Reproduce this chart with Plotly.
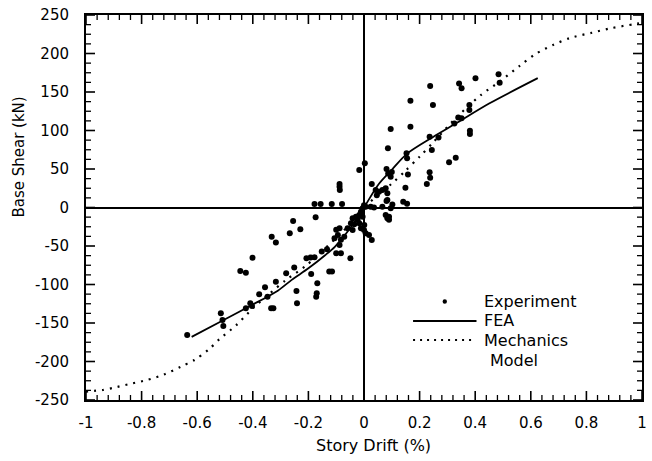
import plotly.graph_objects as go

# ---------------- data ----------------
exp_x = [0.003, -0.017, 0.096, 0.167, 0.238, 0.248, 0.342, 0.351, 0.401, 0.484, 0.488,
         0.167, 0.086, 0.379, 0.379, 0.381, 0.381, 0.339, 0.351, 0.325, 0.268, 0.236, 0.244,
         0.330, 0.306, 0.153, 0.155, 0.158, 0.236, 0.238, 0.226, 0.081, 0.087, 0.100,
         0.028, 0.046, 0.149, 0.084, 0.081, 0.141, 0.155, 0.090,
         0.042, 0.054, 0.066, 0.078, 0.096, 0.084, 0.102, 0.000, 0.006, -0.005,
         0.024, 0.036, 0.066, 0.078, 0.084, 0.090, 0.096, -0.011, -0.017,
         -0.029, -0.041, -0.023, -0.005, -0.047, -0.035, -0.017, 0.001,
         -0.059, -0.041, -0.011, 0.000, 0.006, 0.018, 0.028, -0.100, -0.088,
         -0.094, -0.106, -0.083, -0.071,
         -0.088, -0.088, -0.087, -0.178, -0.156, -0.116, -0.079, -0.255, -0.174,
         -0.229, -0.267, -0.332, -0.317, -0.088, -0.100, -0.083, -0.049,
         -0.133, -0.152, -0.178, -0.192, -0.207, -0.125, -0.115, -0.190, -0.251,
         -0.280, -0.401, -0.445, -0.425, -0.317, -0.356, -0.377, -0.168, -0.170,
         -0.172, -0.243, -0.241, -0.347, -0.409, -0.403, -0.425, -0.334, -0.326,
         -0.515, -0.509, -0.506, -0.636]
exp_y = [57.5, 48.7, 102, 138.7, 157.8, 133, 161, 154.8, 167.8, 173, 162,
         105, 77, 133, 126.6, 99.8, 95.5, 117, 116, 109, 91, 92, 74.7,
         64.7, 58.7, 70.4, 63.9, 43, 45.7, 38.7, 30.5, 50, 44, 46,
         30.5, 16, 25.7, 18.4, 8.4, 7.5, 5, -12,
         22.7, 20.5, 22.7, 25, 40, 9.7, 4, 3, 1, -1,
         1, 0, 1, -9.7, -14, -16, -1, -5.5, -9.7,
         -12, -14, -16, -12, -20.5, -21.8, -20.5, -22.7,
         -27, -29.2, -27, -29.2, -33.5, -35.7, -42.2, -29, -27,
         -35.7, -40, -42, -38,
         30.5, 27, 22.7, 4.5, 4.5, 4.5, 4.5, -17.5, -12.7,
         -28.3, -33.5, -38, -45.5, -48.7, -59.5, -59.5, -66,
         -54.3, -57, -64.7, -65, -66, -83, -83, -86.5, -77.8,
         -85.5, -65.2, -82.5, -84.6, -96.3, -103.7, -112.7, -98.5, -111.5,
         -115.8, -108.4, -124.4, -115.8, -124.4, -128, -131, -131, -131,
         -137.4, -146, -153.9, -165.6]

fea_x = [-0.62, -0.515, -0.405, -0.31, -0.26, -0.20, -0.14, -0.105, -0.05, 0.0,
         0.05, 0.10, 0.155, 0.25, 0.33, 0.45, 0.625]
fea_y = [-168, -148, -127, -108, -94, -79, -62, -51, -27, 0,
         29, 49, 70, 92, 109, 135, 168]

mech_x = [-1.0, -0.94, -0.90, -0.84, -0.78, -0.72, -0.66, -0.61, -0.56, -0.52, -0.46,
          -0.40, -0.34, -0.28, -0.21, -0.14, -0.07, 0.0, 0.06, 0.10, 0.15, 0.20, 0.25,
          0.33, 0.42, 0.49, 0.56, 0.62, 0.68, 0.74, 0.82, 0.89, 0.97, 1.0]
mech_y = [-239, -237, -234, -229, -224, -217, -207, -198, -185, -171, -153,
          -131, -112, -94, -76, -53, -29, 0, 19, 31, 48, 66, 85,
          116, 146, 164, 184, 200, 211, 220, 227, 233, 238, 240]

x_tick_vals = [-1, -0.8, -0.6, -0.4, -0.2, 0, 0.2, 0.4, 0.6, 0.8, 1]
x_tick_text = ["-1", "-0.8", "-0.6", "-0.4", "-0.2", "0", "0.2", "0.4", "0.6", "0.8", "1"]
y_tick_vals = [250, 200, 150, 100, 50, 0, -50, -100, -150, -200, -250]
y_tick_text = ["250", "200", "150", "100", "50", "0", "-50", "-100", "-150", "-200", "-250"]

series_names = ["Experiment", "FEA", "Mechanics", "Model"]

# ---------------- layout helpers ----------------
W, H = 652, 461
L, R, T, B = 86, 5, 15, 61
PW, PH = W - L - R, H - T - B


def px_x(p):
    return (p - L) / PW


def px_y(p):
    return (H - B - p) / PH


FONT = "DejaVu Sans"

fig = go.Figure()
fig.add_trace(go.Scatter(x=exp_x, y=exp_y, mode="markers", name=series_names[0],
                         marker=dict(color="black", size=6), showlegend=False))
fig.add_trace(go.Scatter(x=fea_x, y=fea_y, mode="lines", name=series_names[1],
                         line=dict(color="black", width=1.8, shape="spline", smoothing=0.8),
                         showlegend=False))
fig.add_trace(go.Scatter(x=mech_x, y=mech_y, mode="lines",
                         name=series_names[2] + " " + series_names[3],
                         line=dict(color="black", width=2.2, dash="2px,6px",
                                   shape="spline", smoothing=0.8),
                         showlegend=False))

axis_common = dict(showgrid=False, showline=True, linecolor="black", linewidth=2,
                   mirror=True, ticks="", zeroline=True, zerolinecolor="black",
                   zerolinewidth=1.5, tickfont=dict(family=FONT, size=15, color="black"))
fig.update_xaxes(range=[-1, 1], tickmode="array", tickvals=x_tick_vals,
                 ticktext=x_tick_text, ticklabelstandoff=8, **axis_common)
fig.update_yaxes(range=[-250, 250], tickmode="array", tickvals=y_tick_vals,
                 ticktext=y_tick_text, ticklabelstandoff=12, **axis_common)

# ---- inside tick marks on all four sides (drawn as axis-referenced shapes) ----
MAJ, MIN = 9, 5
shapes = []


def xtick(v, ln, w):
    for anchor, sign in ((0, 1), (1, -1)):
        shapes.append(dict(type="line", xref="x", yref="paper", ysizemode="pixel",
                           yanchor=anchor, x0=v, x1=v, y0=0, y1=sign * ln,
                           line=dict(color="black", width=w), layer="above"))


def ytick(v, ln, w):
    for anchor, sign in ((0, 1), (1, -1)):
        shapes.append(dict(type="line", xref="paper", yref="y", xsizemode="pixel",
                           xanchor=anchor, y0=v, y1=v, x0=0, x1=sign * ln,
                           line=dict(color="black", width=w), layer="above"))


for v in x_tick_vals:
    xtick(v, MAJ, 1.6)
for i in range(-25, 26):
    if i % 5:
        xtick(i * 0.04, MIN, 1.3)
for v in y_tick_vals:
    ytick(v, MAJ, 1.6)
for i in range(-20, 21):
    if i % 4:
        ytick(i * 12.5, MIN, 1.3)

annotations = [
    dict(text="Story Drift (%)", x=px_x(376), y=px_y(445), xref="paper", yref="paper",
         showarrow=False, xanchor="center", yanchor="middle",
         font=dict(family=FONT, size=16, color="black")),
    dict(text="Base Shear (kN)", x=px_x(18), y=px_y(157), xref="paper", yref="paper",
         showarrow=False, xanchor="center", yanchor="middle", textangle=-90,
         font=dict(family=FONT, size=15, color="black")),
]
legend_rows = [(series_names[0], 486, 301.5), (series_names[1], 486, 320.5),
               (series_names[2], 486, 340), (series_names[3], 492, 360)]
for txt, lx, ly in legend_rows:
    annotations.append(dict(text=txt, x=px_x(lx), y=px_y(ly), xref="paper", yref="paper",
                            showarrow=False, xanchor="left", yanchor="middle",
                            font=dict(family=FONT, size=16, color="black")))

shapes += [
    dict(type="circle", xref="paper", yref="paper", xsizemode="pixel", ysizemode="pixel",
         xanchor=px_x(448), yanchor=px_y(301.5), x0=-2.2, x1=2.2, y0=-2.2, y1=2.2,
         fillcolor="black", line=dict(color="black", width=0)),
    dict(type="line", xref="paper", yref="paper", x0=px_x(416), x1=px_x(480),
         y0=px_y(321), y1=px_y(321), line=dict(color="black", width=1.8)),
    dict(type="line", xref="paper", yref="paper", x0=px_x(416), x1=px_x(477),
         y0=px_y(340), y1=px_y(340), line=dict(color="black", width=2, dash="2px,5px")),
]

fig.update_layout(
    width=W, height=H, margin=dict(l=L, r=R, t=T, b=B),
    plot_bgcolor="white", paper_bgcolor="white",
    font=dict(family=FONT, color="black"),
    showlegend=False, annotations=annotations, shapes=shapes,
)

fig.write_html("out.html")
